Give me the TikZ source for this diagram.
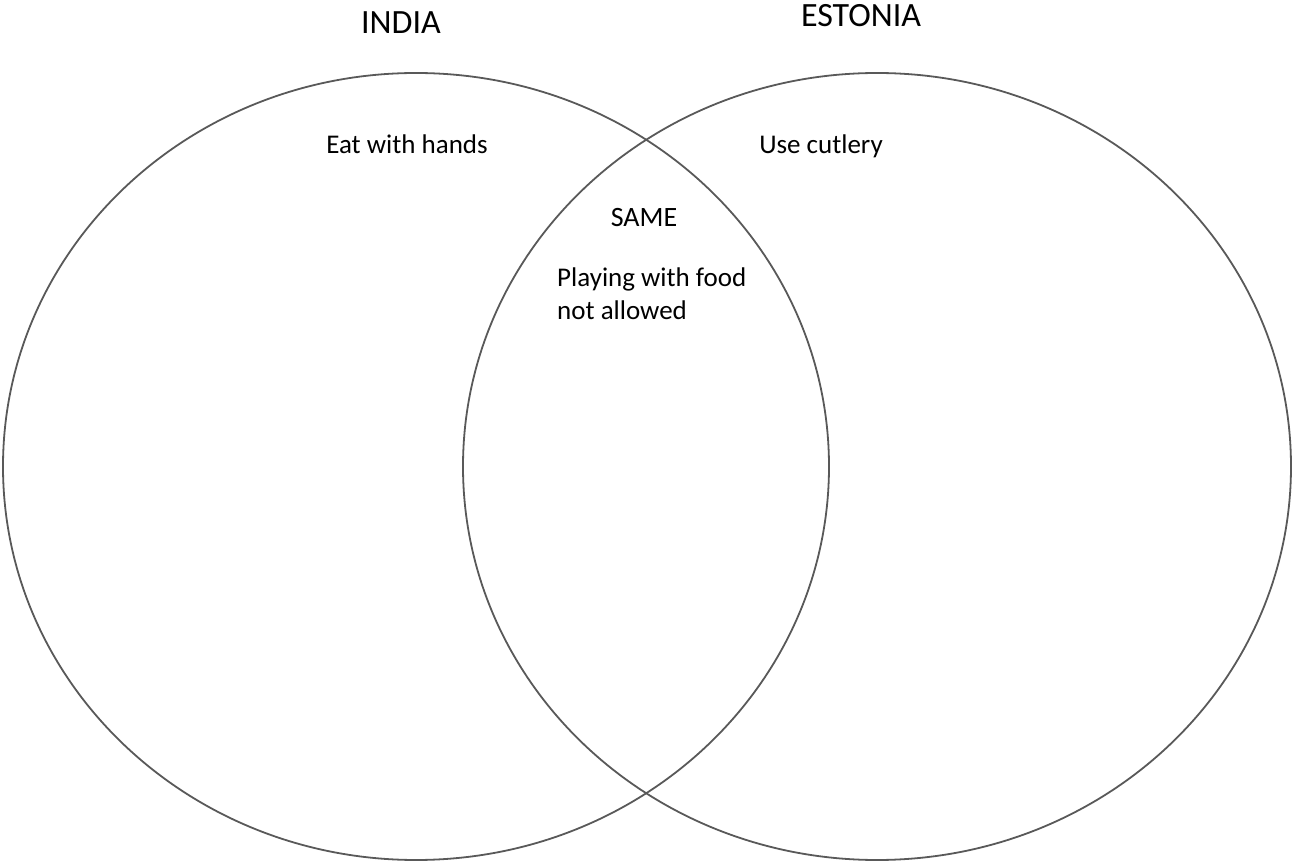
\documentclass[tikz,border=0pt]{standalone}
\usepackage{fontspec}
\setmainfont{Carlito}

\begin{document}
\begin{tikzpicture}[x=1pt,y=-1pt,
    ring/.style={draw=black!65, line width=1.8pt},
    title/.style={anchor=base, inner sep=0pt, font=\fontsize{34}{40}\selectfont},
    entry/.style={inner sep=0pt, font=\fontsize{27}{32}\selectfont}]
      \useasboundingbox (0,0) rectangle (1294,866);
      % the two sets
      \draw[ring] (416,466.5) ellipse [x radius=413, y radius=393.5];
      \draw[ring] (877,466.5) ellipse [x radius=414, y radius=393.5];
      \node[title] (india) at (401,34) {INDIA};
      \node[title] (estonia) at (861,27) {ESTONIA};
      \node[entry, anchor=base] (hands) at (407,154) {Eat with hands};
      \node[entry, anchor=base] (cutlery) at (821,154) {Use cutlery};
      \node[entry, anchor=base, font=\fontsize{28}{32}\selectfont] (same) at (644,227) {SAME};
      \node[entry, anchor=base west] (food) at (557,287) {Playing with food};
      \node[entry, anchor=base west] (allowed) at (557,320) {not allowed};
    \end{tikzpicture}
\end{document}
